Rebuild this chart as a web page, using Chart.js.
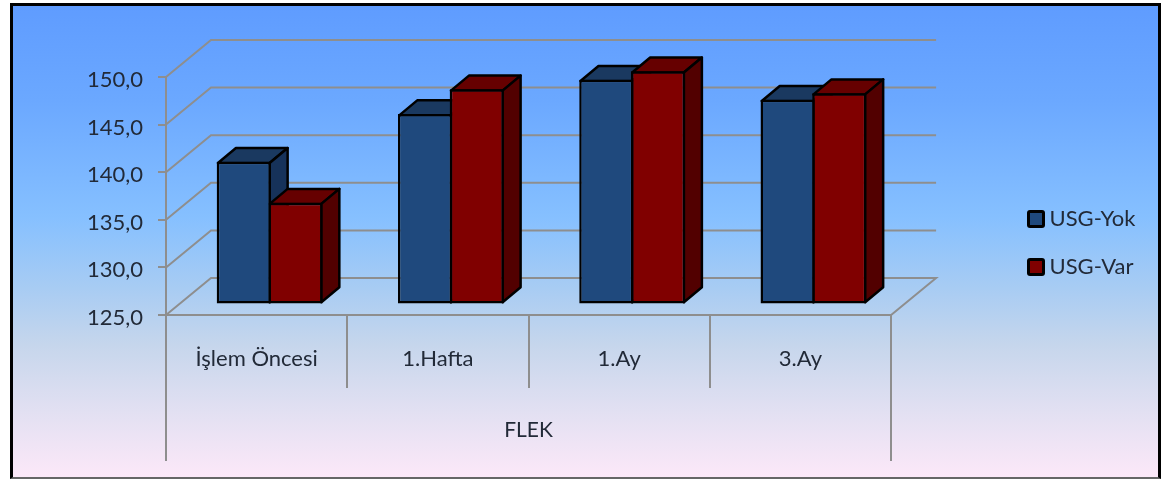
<!DOCTYPE html>
<html lang="tr">
<head>
<meta charset="utf-8">
<title>FLEK</title>
<script src="https://cdn.jsdelivr.net/npm/chart.js@4/dist/chart.umd.js"></script>
<style>
  html, body { margin: 0; padding: 0; background: #fff; width: 1167px; height: 479px; overflow: hidden; }
  /* marco con el degradado de fondo */
  #marco {
    position: absolute; left: 10px; top: 3px; width: 1145px; height: 471px;
    border-style: solid; border-color: #000 #000 #666 #000; border-width: 3px 3px 2px 3px;
    background: linear-gradient(180deg, #5f9cff 0%, #6ba8ff 20%, #86c0ff 45%, #a8ccf3 60%, #c6d6ec 72%, #e2e0f2 86%, #fce8f8 100%);
  }
  #grafico { position: absolute; left: 0; top: 0; }
</style>
</head>
<body>
<div id="marco"></div>
<canvas id="grafico" width="1167" height="479"></canvas>
<script>
/*********-datos-*********/
const CATEGORIAS = ["İşlem Öncesi", "1.Hafta", "1.Ay", "3.Ay"];
const GRUPO = ["FLEK"];
const USG_YOK = [140.0, 145.0, 148.6, 146.5];
const USG_VAR = [135.7, 147.6, 149.5, 147.2];
const Y_MIN = 125;
const Y_MAX = 150;
//------------------------------------//

const COLOR_TEXTO = "#222a38";
const COLOR_GRID = "#8e8e8e";
const FUENTE = "Lato, Carlito, sans-serif";
const BORDE_BARRA = 2.5;

// profundidad de la pared del fondo y de las barras
const FONDO = { x: 45, y: -37 };
const BARRA_DESP = { x: 13, y: -10.5 };
const BARRA_PROF = { x: 18, y: -15 };

const COLORES_LADO = [
  { arriba: "#1a3960", lado: "#16325a" },
  { arriba: "#660000", lado: "#520000" }
];

function poligono(ctx, puntos, relleno) {
  ctx.beginPath();
  puntos.forEach((p, i) => i ? ctx.lineTo(p[0], p[1]) : ctx.moveTo(p[0], p[1]));
  ctx.closePath();
  ctx.fillStyle = relleno;
  ctx.fill();
  ctx.stroke();
}

// cuadrito de la leyenda con esquinas redondeadas
function marcaLeyenda(color) {
  const c = document.createElement("canvas");
  c.width = 18;
  c.height = 18;
  const g = c.getContext("2d");
  g.fillStyle = "#000";
  g.beginPath();
  g.roundRect(0, 0, 18, 18, 3);
  g.fill();
  g.fillStyle = color;
  g.fillRect(3, 3, 12, 12);
  return c;
}

/*********-paredes, suelo y caras laterales-*********/
const plugin3D = {
  id: "plugin3D",
  afterLayout(chart) {
    // la leyenda va separada del grafico
    const ley = chart.legend;
    const alto = ley.bottom - ley.top;
    ley.left = 1007.5;
    ley.right = 1007.5 + ley.width;
    ley.top = 243 - alto / 2;
    ley.bottom = 243 + alto / 2;
  },
  beforeDatasetsDraw(chart) {
    const ctx = chart.ctx;
    const { left, right } = chart.chartArea;
    const escalaY = chart.scales.y;

    ctx.save();
    ctx.strokeStyle = COLOR_GRID;
    ctx.lineWidth = 2;
    escalaY.ticks.forEach(t => {
      const y = escalaY.getPixelForValue(t.value);
      ctx.beginPath();
      ctx.moveTo(left, y);
      ctx.lineTo(left + FONDO.x, y + FONDO.y);
      ctx.lineTo(right + FONDO.x, y + FONDO.y);
      if (t.value === escalaY.min) ctx.lineTo(right, y);
      ctx.stroke();
    });
    ctx.restore();

    // las barras se dibujan desplazadas hacia el fondo
    ctx.save();
    ctx.translate(BARRA_DESP.x, BARRA_DESP.y);
    ctx.strokeStyle = "#000";
    ctx.lineWidth = BORDE_BARRA;
    ctx.lineJoin = "round";
    const m = BORDE_BARRA / 2;
    [0, 1].forEach(d => {
      chart.getDatasetMeta(d).data.forEach(barra => {
        const { x, y, base, width } = barra.getProps(["x", "y", "base", "width"], true);
        const izq = x - width / 2 + m;
        const der = x + width / 2 - m;
        const arr = y + m;
        const aba = base - m;
        const px = BARRA_PROF.x;
        const py = BARRA_PROF.y;
        poligono(ctx, [[izq, arr], [izq + px, arr + py], [der + px, arr + py], [der, arr]], COLORES_LADO[d].arriba);
        poligono(ctx, [[der, arr], [der + px, arr + py], [der + px, aba + py], [der, aba]], COLORES_LADO[d].lado);
      });
    });
  },
  afterDatasetsDraw(chart) {
    chart.ctx.restore();
  }
};

/*********-grafico de BARRAS-*********/
const CTX = document.getElementById("grafico").getContext("2d");

new Chart(CTX, {
  type: "bar",
  data: {
    labels: CATEGORIAS,
    datasets: [
      { label: "USG-Yok", data: USG_YOK, base: Y_MIN, backgroundColor: "#1f497d", borderColor: "#000", borderWidth: BORDE_BARRA, borderSkipped: false, clip: false },
      { label: "USG-Var", data: USG_VAR, base: Y_MIN, backgroundColor: "#800000", borderColor: "#000", borderWidth: BORDE_BARRA, borderSkipped: false, clip: false }
    ]
  },
  options: {
    responsive: false,
    animation: false,
    categoryPercentage: 0.5705,
    barPercentage: 1.048,
    layout: { padding: { top: 77, left: 0, bottom: 18, right: 138 } },
    plugins: {
      tooltip: { enabled: false },
      legend: {
        position: "right",
        labels: {
          color: COLOR_TEXTO,
          font: { family: FUENTE, size: 22 },
          usePointStyle: true,
          pointStyleWidth: 5,
          padding: 26,
          generateLabels(chart) {
            return Chart.defaults.plugins.legend.labels.generateLabels(chart).map((l, i) => ({
              ...l,
              pointStyle: marcaLeyenda(i === 0 ? "#1f497d" : "#800000")
            }));
          }
        }
      }
    },
    scales: {
      x: {
        offset: true,
        grid: { offset: true, drawOnChartArea: false, color: COLOR_GRID, lineWidth: 2, tickLength: 73 },
        border: { display: true, color: COLOR_GRID, width: 2 },
        ticks: { color: COLOR_TEXTO, font: { family: FUENTE, size: 22 }, padding: -42, maxRotation: 0, autoSkip: false },
        afterFit(escala) { escala.height = 73; }
      },
      x2: {
        type: "category",
        labels: GRUPO,
        position: "bottom",
        offset: true,
        grid: { offset: true, drawOnChartArea: false, color: COLOR_GRID, lineWidth: 2, tickLength: 73 },
        border: { display: false },
        ticks: { color: COLOR_TEXTO, font: { family: FUENTE, size: 21 }, padding: -43, maxRotation: 0 },
        afterFit(escala) { escala.height = 73; }
      },
      y: {
        min: Y_MIN,
        max: Y_MAX,
        grid: { drawOnChartArea: false, color: COLOR_GRID, lineWidth: 2, tickLength: 8 },
        border: { display: true, color: COLOR_GRID, width: 2 },
        ticks: {
          stepSize: 5,
          color: COLOR_TEXTO,
          font: { family: FUENTE, size: 22 },
          padding: 15,
          labelOffset: 3,
          callback: v => v.toFixed(1).replace(".", ",")
        },
        afterFit(escala) { escala.width = 166; }
      }
    }
  },
  plugins: [plugin3D]
});
</script>
</body>
</html>
